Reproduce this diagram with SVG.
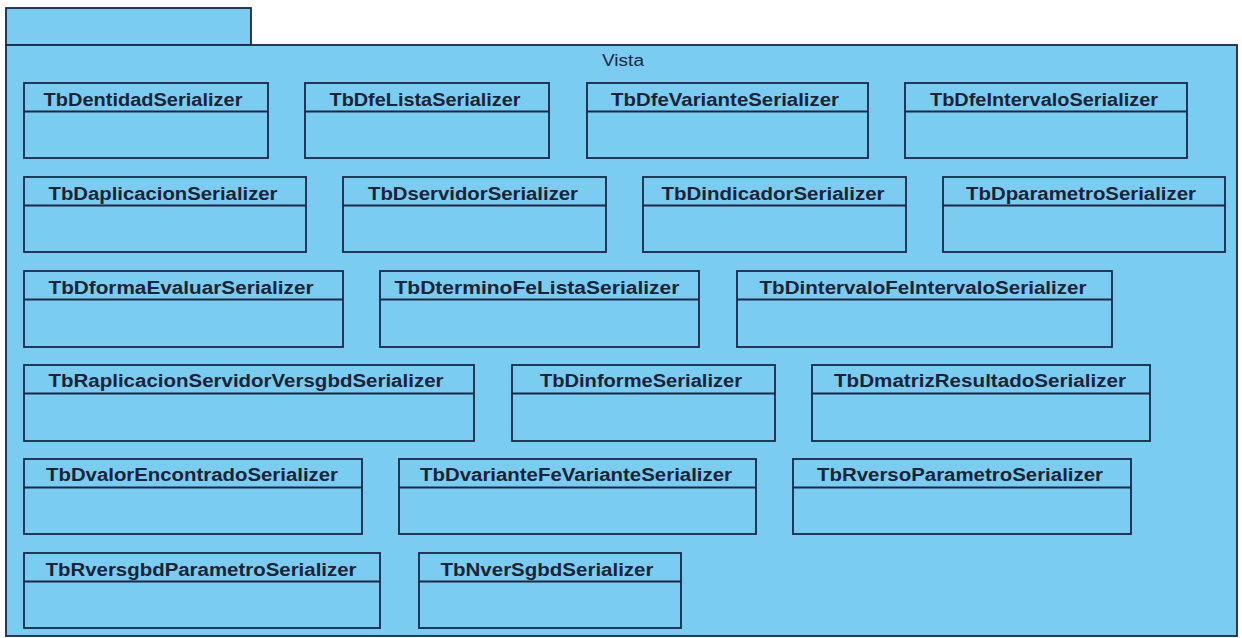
<svg xmlns="http://www.w3.org/2000/svg" width="1242" height="638" viewBox="0 0 1242 638">
  <style>
    .pkg { fill: #7acdf1; stroke: #1c2746; stroke-width: 1.8; }
    .box { fill: #7acdf1; stroke: #1c2746; stroke-width: 1.8; }
    .sep { stroke: #1c2746; stroke-width: 1.8; }
    .name { font-family: "Liberation Sans", Arial, sans-serif; font-weight: bold; font-size: 18px; fill: #1b2336; text-anchor: middle; }
    .pkgname { font-family: "Liberation Sans", Arial, sans-serif; font-size: 16px; fill: #1d2538; text-anchor: middle; }
  </style>
  <rect width="1242" height="638" fill="#ffffff"/>

  <!-- package "Vista" -->
  <g id="pkg-vista">
    <rect class="pkg" x="6" y="8" width="245" height="37"/>
    <rect class="pkg" x="6" y="45" width="1231" height="591"/>
    <text class="pkgname" x="623" y="66" textLength="42" lengthAdjust="spacingAndGlyphs">Vista</text>
  </g>

  <!-- no connectors between classes -->
  <g id="connectors"/>

  <!-- row 1 -->
  <g id="TbDentidadSerializer">
    <rect class="box" x="24" y="83" width="244" height="75"/>
    <line class="sep" x1="24" y1="111.5" x2="268" y2="111.5"/>
    <text class="name" x="143" y="105.5" textLength="199" lengthAdjust="spacingAndGlyphs">TbDentidadSerializer</text>
  </g>
  <g id="TbDfeListaSerializer">
    <rect class="box" x="305" y="83" width="244" height="75"/>
    <line class="sep" x1="305" y1="111.5" x2="549" y2="111.5"/>
    <text class="name" x="425" y="105.5" textLength="191" lengthAdjust="spacingAndGlyphs">TbDfeListaSerializer</text>
  </g>
  <g id="TbDfeVarianteSerializer">
    <rect class="box" x="587" y="83" width="281" height="75"/>
    <line class="sep" x1="587" y1="111.5" x2="868" y2="111.5"/>
    <text class="name" x="725" y="105.5" textLength="228" lengthAdjust="spacingAndGlyphs">TbDfeVarianteSerializer</text>
  </g>
  <g id="TbDfeIntervaloSerializer">
    <rect class="box" x="905" y="83" width="282" height="75"/>
    <line class="sep" x1="905" y1="111.5" x2="1187" y2="111.5"/>
    <text class="name" x="1044" y="105.5" textLength="228" lengthAdjust="spacingAndGlyphs">TbDfeIntervaloSerializer</text>
  </g>

  <!-- row 2 -->
  <g id="TbDaplicacionSerializer">
    <rect class="box" x="24" y="177" width="282" height="75"/>
    <line class="sep" x1="24" y1="205.5" x2="306" y2="205.5"/>
    <text class="name" x="163" y="199.5" textLength="229" lengthAdjust="spacingAndGlyphs">TbDaplicacionSerializer</text>
  </g>
  <g id="TbDservidorSerializer">
    <rect class="box" x="343" y="177" width="263" height="75"/>
    <line class="sep" x1="343" y1="205.5" x2="606" y2="205.5"/>
    <text class="name" x="473" y="199.5" textLength="210" lengthAdjust="spacingAndGlyphs">TbDservidorSerializer</text>
  </g>
  <g id="TbDindicadorSerializer">
    <rect class="box" x="643" y="177" width="263" height="75"/>
    <line class="sep" x1="643" y1="205.5" x2="906" y2="205.5"/>
    <text class="name" x="773" y="199.5" textLength="223" lengthAdjust="spacingAndGlyphs">TbDindicadorSerializer</text>
  </g>
  <g id="TbDparametroSerializer">
    <rect class="box" x="943" y="177" width="282" height="75"/>
    <line class="sep" x1="943" y1="205.5" x2="1225" y2="205.5"/>
    <text class="name" x="1081" y="199.5" textLength="230" lengthAdjust="spacingAndGlyphs">TbDparametroSerializer</text>
  </g>

  <!-- row 3 -->
  <g id="TbDformaEvaluarSerializer">
    <rect class="box" x="24" y="271" width="319" height="76"/>
    <line class="sep" x1="24" y1="299.5" x2="343" y2="299.5"/>
    <text class="name" x="181" y="293.5" textLength="265" lengthAdjust="spacingAndGlyphs">TbDformaEvaluarSerializer</text>
  </g>
  <g id="TbDterminoFeListaSerializer">
    <rect class="box" x="380" y="271" width="319" height="76"/>
    <line class="sep" x1="380" y1="299.5" x2="699" y2="299.5"/>
    <text class="name" x="537" y="293.5" textLength="285" lengthAdjust="spacingAndGlyphs">TbDterminoFeListaSerializer</text>
  </g>
  <g id="TbDintervaloFeIntervaloSerializer">
    <rect class="box" x="737" y="271" width="375" height="76"/>
    <line class="sep" x1="737" y1="299.5" x2="1112" y2="299.5"/>
    <text class="name" x="923" y="293.5" textLength="327" lengthAdjust="spacingAndGlyphs">TbDintervaloFeIntervaloSerializer</text>
  </g>

  <!-- row 4 -->
  <g id="TbRaplicacionServidorVersgbdSerializer">
    <rect class="box" x="24" y="365" width="450" height="76"/>
    <line class="sep" x1="24" y1="393.5" x2="474" y2="393.5"/>
    <text class="name" x="246" y="386.5" textLength="395" lengthAdjust="spacingAndGlyphs">TbRaplicacionServidorVersgbdSerializer</text>
  </g>
  <g id="TbDinformeSerializer">
    <rect class="box" x="512" y="365" width="263" height="76"/>
    <line class="sep" x1="512" y1="393.5" x2="775" y2="393.5"/>
    <text class="name" x="641" y="386.5" textLength="202" lengthAdjust="spacingAndGlyphs">TbDinformeSerializer</text>
  </g>
  <g id="TbDmatrizResultadoSerializer">
    <rect class="box" x="812" y="365" width="338" height="76"/>
    <line class="sep" x1="812" y1="393.5" x2="1150" y2="393.5"/>
    <text class="name" x="980" y="386.5" textLength="292" lengthAdjust="spacingAndGlyphs">TbDmatrizResultadoSerializer</text>
  </g>

  <!-- row 5 -->
  <g id="TbDvalorEncontradoSerializer">
    <rect class="box" x="24" y="459" width="338" height="75"/>
    <line class="sep" x1="24" y1="487.5" x2="362" y2="487.5"/>
    <text class="name" x="192" y="480.5" textLength="292" lengthAdjust="spacingAndGlyphs">TbDvalorEncontradoSerializer</text>
  </g>
  <g id="TbDvarianteFeVarianteSerializer">
    <rect class="box" x="399" y="459" width="357" height="75"/>
    <line class="sep" x1="399" y1="487.5" x2="756" y2="487.5"/>
    <text class="name" x="576" y="480.5" textLength="312" lengthAdjust="spacingAndGlyphs">TbDvarianteFeVarianteSerializer</text>
  </g>
  <g id="TbRversoParametroSerializer">
    <rect class="box" x="793" y="459" width="338" height="75"/>
    <line class="sep" x1="793" y1="487.5" x2="1131" y2="487.5"/>
    <text class="name" x="960" y="480.5" textLength="286" lengthAdjust="spacingAndGlyphs">TbRversoParametroSerializer</text>
  </g>

  <!-- row 6 -->
  <g id="TbRversgbdParametroSerializer">
    <rect class="box" x="24" y="553" width="356" height="75"/>
    <line class="sep" x1="24" y1="581.5" x2="380" y2="581.5"/>
    <text class="name" x="201" y="575.5" textLength="311" lengthAdjust="spacingAndGlyphs">TbRversgbdParametroSerializer</text>
  </g>
  <g id="TbNverSgbdSerializer">
    <rect class="box" x="419" y="553" width="262" height="75"/>
    <line class="sep" x1="419" y1="581.5" x2="681" y2="581.5"/>
    <text class="name" x="547" y="575.5" textLength="213" lengthAdjust="spacingAndGlyphs">TbNverSgbdSerializer</text>
  </g>
</svg>
